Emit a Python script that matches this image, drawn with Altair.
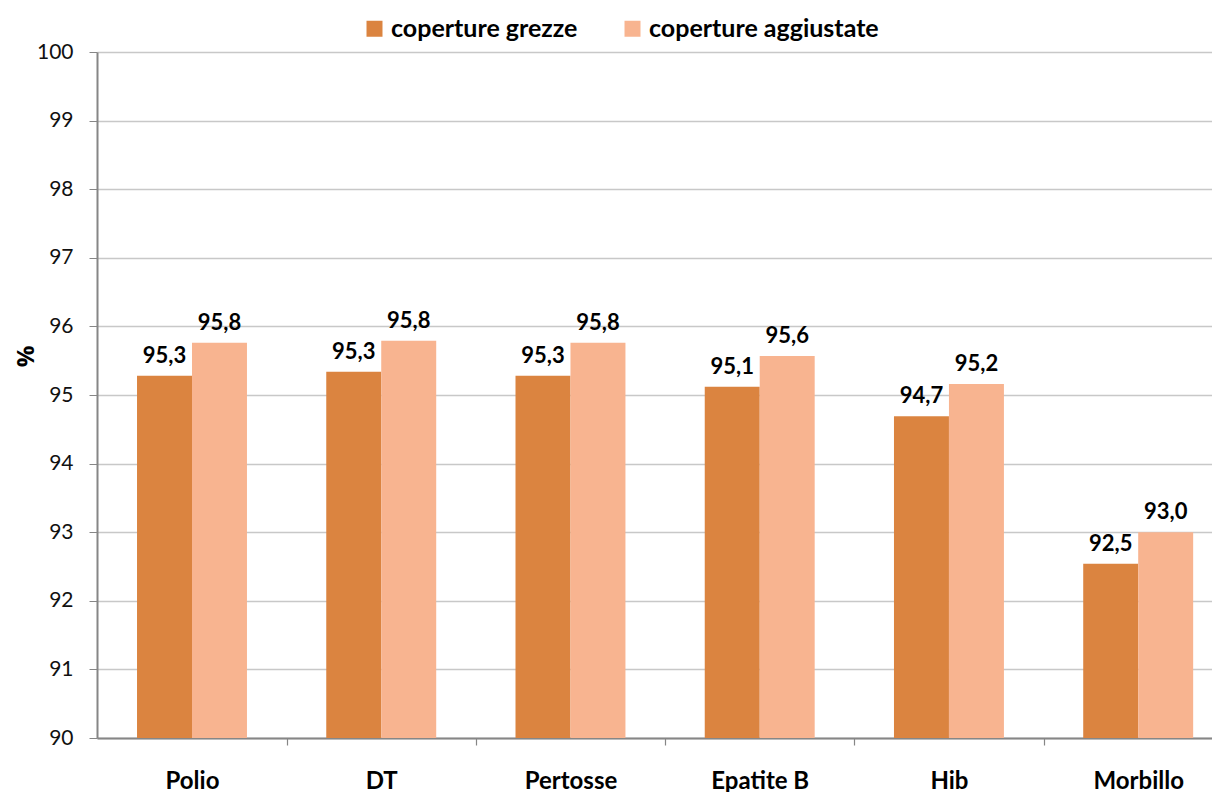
import altair as alt
import pandas as pd

categories = ["Polio", "DT", "Pertosse", "Epatite B", "Hib", "Morbillo"]
series_names = ["coperture grezze", "coperture aggiustate"]
grezze = [95.28, 95.34, 95.28, 95.12, 94.69, 92.54]
aggiustate = [95.76, 95.79, 95.76, 95.57, 95.16, 93.00]
y_ticks = [90, 91, 92, 93, 94, 95, 96, 97, 98, 99, 100]
colors = ["#DB8440", "#F8B490"]

rows = []
for i, c in enumerate(categories):
    for s, vals in zip(series_names, [grezze, aggiustate]):
        v = vals[i]
        rows.append({"cat": c, "serie": s, "val": v, "base": y_ticks[0],
                     "lbl": f"{v:.1f}".replace(".", ",")})
df = pd.DataFrame(rows)

FONT = "Lato"
HALF_STEP = 94.6

x_enc = alt.X("cat:N", sort=categories, title=None,
              scale=alt.Scale(paddingInner=0.419, paddingOuter=0.1555, align=0.68),
              axis=alt.Axis(labelAngle=0, labelFont=FONT, labelFontWeight="bold",
                            labelFontSize=24, labelColor="#000000", labelPadding=24,
                            domainColor="#868686", domainWidth=2,
                            ticks=True, tickColor="#868686", tickSize=7, tickWidth=1.2,
                            tickOffset=HALF_STEP, labelOffset=-HALF_STEP,
                            grid=False))
xoff = alt.XOffset("serie:N", sort=series_names)

bars = alt.Chart(df).mark_bar().encode(
    x=x_enc,
    xOffset=xoff,
    y=alt.Y("val:Q", title="%",
            scale=alt.Scale(domain=[90, 100], nice=False, zero=False),
            axis=alt.Axis(values=y_ticks, format="d", labelFont=FONT, labelFontSize=21,
                          labelColor="#111111", labelPadding=16,
                          tickColor="#868686", tickSize=8,
                          domainColor="#868686", domainWidth=2,
                          gridColor="#C8C8C8", gridWidth=1.3,
                          titleFont="Open Sans", titleFontSize=24, titleFontWeight="bold",
                          titleColor="#000000", titleAngle=270,
                          titleAlign="center", titleBaseline="middle",
                          titleX=-71, titleY=304)),
    y2="base:Q",
    color=alt.Color("serie:N", sort=series_names,
                    scale=alt.Scale(domain=series_names, range=colors),
                    legend=alt.Legend(title=None, orient="none", direction="horizontal",
                                      legendX=265, legendY=-36,
                                      symbolType="square", symbolSize=256,
                                      symbolStrokeWidth=0, symbolOpacity=1,
                                      labelFont=FONT, labelFontSize=25,
                                      labelFontWeight="bold", labelColor="#000000",
                                      labelLimit=400, labelOffset=4,
                                      columnPadding=42, padding=0)),
)

labels = alt.Chart(df).mark_text(font=FONT, fontSize=22, fontWeight="bold",
                                 baseline="alphabetic", dy=-13, color="#000000").encode(
    x=alt.X("cat:N", sort=categories),
    xOffset=xoff,
    y="val:Q",
    text="lbl:N",
)

chart = alt.layer(bars, labels).properties(
    width=1115, height=686,
    padding={"left": 89, "top": 44, "right": 0, "bottom": 54},
    autosize=alt.AutoSizeParams(type="none"),
).configure_view(stroke=None).configure_axisY(grid=True)

chart.save("out.html", embed_options={"renderer": "svg", "actions": False})
